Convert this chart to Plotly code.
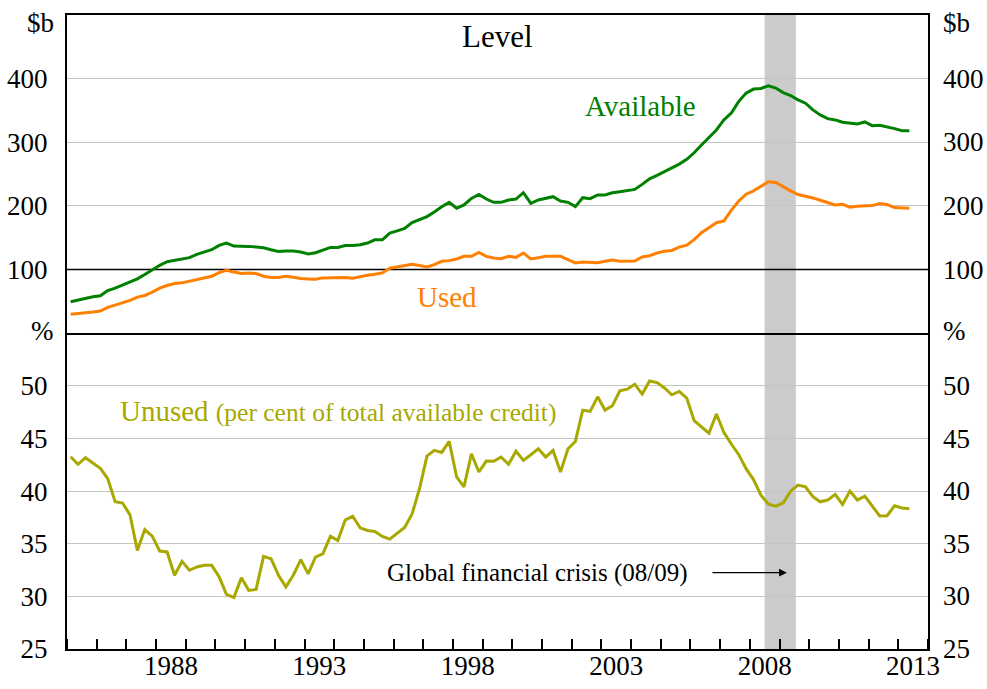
import pandas as pd
import plotly.graph_objects as go

# quarterly, 1985Q1 - 2013Q2
quarters = pd.period_range("1985Q1", "2013Q2", freq="Q")

available = [
    49.5, 52.1, 55.2, 57.3, 58.9, 67.2, 70.8, 75.5, 80.2, 85.4,
    92.2, 100.0, 106.8, 112.5, 114.6, 117.7, 118.8, 123.9, 127.6, 131.3,
    138.0, 141.7, 137.0, 137.0, 136.5, 135.4, 134.4, 131.3, 128.6, 129.2,
    129.2, 127.6, 124.5, 126.6, 131.3, 134.9, 134.9, 138.0, 138.0, 139.1,
    141.7, 146.9, 146.9, 157.3, 160.9, 164.6, 174.0, 178.1, 183.3, 190.6,
    198.9, 205.7, 196.4, 201.6, 211.9, 218.2, 210.9, 205.7, 205.7, 209.4,
    210.9, 220.8, 204.2, 209.4, 211.9, 214.6, 207.8, 205.7, 198.9, 213.0,
    211.5, 217.2, 217.2, 220.8, 222.4, 223.9, 226.0, 233.9, 242.7, 248.0,
    254.0, 259.0, 265.8, 273.2, 283.6, 295.7, 307.3, 319.4, 335.2, 345.7,
    364.0, 377.3, 383.6, 384.5, 388.8, 385.2, 378.2, 373.5, 366.7, 361.5,
    350.9, 343.0, 337.2, 335.2, 331.5, 330.0, 328.9, 332.0, 326.2, 326.8,
    324.6, 321.5, 318.3, 318.3,
]

used = [
    29.7, 30.7, 32.3, 33.3, 34.9, 40.6, 44.3, 47.9, 51.6, 56.8,
    59.4, 64.6, 70.8, 75.0, 78.1, 79.2, 81.8, 84.9, 87.0, 89.6,
    95.3, 98.9, 96.4, 93.8, 94.8, 93.8, 89.6, 87.5, 87.5, 89.6,
    88.0, 85.9, 85.4, 84.9, 87.0, 87.5, 87.5, 87.5, 86.5, 89.1,
    91.1, 92.7, 94.8, 102.1, 104.2, 105.2, 108.3, 106.3, 104.2, 107.8,
    113.0, 114.1, 116.7, 120.8, 120.8, 127.1, 120.8, 118.2, 117.2, 120.8,
    119.3, 126.0, 116.7, 118.8, 120.8, 120.8, 120.8, 115.6, 110.4, 112.0,
    111.5, 110.9, 113.0, 115.1, 113.0, 113.5, 113.5, 119.8, 121.9, 126.0,
    129.0, 130.1, 135.3, 138.5, 147.0, 158.0, 165.9, 173.8, 176.3, 193.2,
    207.4, 218.5, 223.7, 231.1, 237.9, 236.9, 230.0, 223.7, 218.0, 215.8,
    212.6, 209.0, 204.7, 201.6, 202.7, 198.0, 199.5, 200.6, 200.6, 203.8,
    202.2, 197.5, 196.4, 196.4,
]

unused = [
    43.27, 42.55, 43.18, 42.7, 42.17, 41.2, 38.99, 38.87, 37.74, 34.37,
    36.35, 35.72, 34.31, 34.22, 32.01, 33.33, 32.48, 32.8, 32.95, 32.95,
    31.86, 30.19, 29.9, 31.76, 30.57, 30.66, 33.8, 33.58, 32.01, 30.9,
    32.01, 33.49, 32.14, 33.74, 34.06, 35.72, 35.31, 37.26, 37.61, 36.51,
    36.26, 36.16, 35.69, 35.44, 36.01, 36.54, 37.83, 40.25, 43.33, 43.87,
    43.68, 44.72, 41.35, 40.41, 43.55, 41.82, 42.86, 42.83, 43.24, 42.55,
    43.8, 42.92, 43.46, 44.03, 43.24, 43.87, 41.82, 44.03, 44.72, 47.7,
    47.58, 48.96, 47.7, 48.11, 49.53, 49.69, 50.16, 49.22, 50.47, 50.31,
    49.8, 49.15, 49.47, 48.84, 46.7, 46.07, 45.5, 47.33, 45.6, 44.5,
    43.49, 42.14, 41.1, 39.62, 38.77, 38.58, 38.9, 40.0, 40.57, 40.41,
    39.47, 38.99, 39.15, 39.69, 38.74, 40.0, 39.15, 39.53, 38.52, 37.64,
    37.67, 38.61, 38.4, 38.33,
]

year_labels = ["1988", "1993", "1998", "2003", "2008", "2013"]
top_ticks = [100, 200, 300, 400]
top_grid = [200, 300, 400]
bottom_ticks = [25, 30, 35, 40, 45, 50]

dates = quarters.start_time + (quarters.end_time - quarters.start_time) / 2

GREEN = "#008000"
ORANGE = "#ff8000"
OLIVE = "#a8a800"
GRID = "#c4c4c4"
FONT = "Liberation Serif"

fig = go.Figure()
fig.add_trace(go.Scatter(x=dates, y=available, xaxis="x2", yaxis="y2",
                         mode="lines", line=dict(color=GREEN, width=3)))
fig.add_trace(go.Scatter(x=dates, y=used, xaxis="x2", yaxis="y2",
                         mode="lines", line=dict(color=ORANGE, width=3)))
fig.add_trace(go.Scatter(x=dates, y=unused, xaxis="x", yaxis="y",
                         mode="lines", line=dict(color=OLIVE, width=3)))

line = dict(showline=True, linecolor="black", linewidth=2, automargin=False)
yfont = dict(family=FONT, size=27, color="black")

fig.update_layout(
    width=987, height=689,
    margin=dict(l=67, r=59, t=15, b=40),
    paper_bgcolor="white", plot_bgcolor="white",
    showlegend=False,
    font=dict(family=FONT, color="black"),
    xaxis=dict(domain=[0, 1], anchor="y", type="date",
               range=["1985-01-01", "2014-01-01"],
               tickvals=[f"{y}-07-02" for y in year_labels], ticktext=year_labels,
               ticks="", showgrid=False, zeroline=False, mirror=False,
               ticklabelstandoff=-8,
               tickfont=dict(family=FONT, size=27, color="black"),
               minor=dict(ticks="inside", dtick="M12", tick0="1985-01-01",
                          ticklen=10, tickwidth=1.5, tickcolor="black", showgrid=False),
               **line),
    xaxis2=dict(domain=[0, 1], anchor="y2", type="date", matches="x", mirror=True,
                showticklabels=False, ticks="", showgrid=False, zeroline=False, **line),
    yaxis=dict(domain=[0, 0.498], anchor="x", range=[25, 55], tickvals=bottom_ticks,
               ticks="", gridcolor=GRID, gridwidth=1, zeroline=False, mirror=True,
               ticklabelstandoff=12, tickfont=yfont, **line),
    yaxis2=dict(domain=[0.498, 1], anchor="x2", range=[0, 500], tickvals=top_ticks,
                ticks="", showgrid=False, zeroline=False, mirror=True,
                minor=dict(tickvals=top_grid, showgrid=True, gridcolor=GRID,
                           gridwidth=1, ticks=""),
                ticklabelstandoff=12, tickfont=yfont, **line),
)

# GFC shading and the 100 line
fig.add_shape(type="rect", xref="x", yref="paper", x0="2008-07-01", x1="2009-07-20",
              y0=0, y1=1, fillcolor="#cbcbcb", line=dict(width=0), layer="between")
fig.add_shape(type="line", xref="paper", yref="y2", x0=0, x1=1, y0=100, y1=100,
              line=dict(color="black", width=1.5), layer="between")

def note(text, x, y, yref, color="black", size=29, **kw):
    fig.add_annotation(text=text, x=x, y=y, xref="x", yref=yref, showarrow=False,
                       font=dict(family=FONT, size=size, color=color), **kw)

note("Level", "1999-07-08", 467, "y2", size=31)
note("Available", "2004-04-20", 357, "y2", color=GREEN)
note("Used", "1997-10-20", 57, "y2", color=ORANGE)
note("Unused <span style='font-size:25.5px'>(per cent of total available credit)</span>",
     "1994-02-15", 47.6, "y", color=OLIVE)
note("Global financial crisis (08/09)", "2000-11-05", 32.25, "y", size=25)

fig.add_annotation(x="2009-04-01", y=32.25, xref="x", yref="y",
                   ax="2006-09-10", ay=32.25, axref="x", ayref="y",
                   text="", showarrow=True, arrowhead=2, arrowsize=1.2,
                   arrowwidth=1.3, arrowcolor="black")

# right-hand tick labels mirror the left-hand axes
for v in top_ticks:
    fig.add_annotation(text=str(v), x=1, y=v, xref="paper", yref="y2", xanchor="left",
                       xshift=13, showarrow=False, font=yfont)
for v in bottom_ticks:
    fig.add_annotation(text=str(v), x=1, y=v, xref="paper", yref="y", xanchor="left",
                       xshift=13, showarrow=False, font=yfont)

# unit labels on both sides
for side_x, anchor, shift in [(0, "right", -11), (1, "left", 13)]:
    fig.add_annotation(text="$b", x=side_x, y=500, xref="paper", yref="y2",
                       xanchor=anchor, yanchor="middle", xshift=shift, yshift=-8,
                       showarrow=False, font=yfont)
    fig.add_annotation(text="%", x=side_x, y=55, xref="paper", yref="y",
                       xanchor=anchor, yanchor="middle", xshift=shift, yshift=2,
                       showarrow=False, font=yfont)

# drop the default 8px page margin so the figure fills the window exactly
fig.write_html("out.html", config={"displayModeBar": False},
               post_script="document.body.style.margin = '0';")
